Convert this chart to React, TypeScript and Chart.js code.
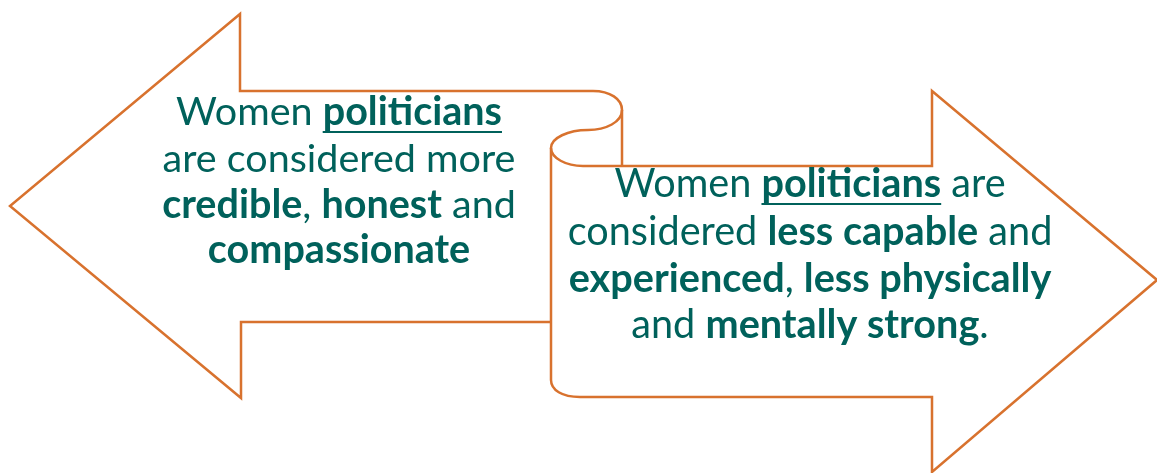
import { useEffect, useRef } from 'react';
import { Chart, registerables } from 'chart.js';

Chart.register(...registerables);

const SHAPE_COLOR = '#D8722E';
const TEXT_COLOR = '#00615B';
const FONT_FAMILY = 'Lato';

const leftArrow = [
  { x: 551, y: 322 }, { x: 241, y: 322 }, { x: 241, y: 398 }, { x: 10, y: 206 },
  { x: 240, y: 14 }, { x: 240, y: 91 }, { x: 593, y: 91 },
];
const rightArrow = [
  { x: 580, y: 397 }, { x: 932, y: 397 }, { x: 932, y: 472 }, { x: 1157, y: 280 },
  { x: 932, y: 91 }, { x: 932, y: 166 }, { x: 583, y: 166 },
];
const scrollBack = [{ x: 622, y: 110 }, { x: 622, y: 166 }];
const scrollEdge = [{ x: 551, y: 148 }, { x: 551, y: 380 }];
const curlCurves = [
  [[593, 91], [610, 91], [622, 99], [622, 110]],
  [[622, 110], [622, 122], [606, 130], [588, 130]],
  [[588, 130], [568, 130], [551, 138], [551, 148]],
  [[551, 148], [551, 158], [566, 166], [583, 166]],
  [[551, 380], [551, 390], [562, 397], [580, 397]],
];

type Run = { t: string; b?: boolean; u?: boolean };

const leftLines: Run[][] = [
  [{ t: 'Women ' }, { t: 'politicians', b: true, u: true }],
  [{ t: 'are considered more' }],
  [{ t: 'credible', b: true }, { t: ', ' }, { t: 'honest', b: true }, { t: ' and' }],
  [{ t: 'compassionate', b: true }],
];
const rightLines: Run[][] = [
  [{ t: 'Women ' }, { t: 'politicians', b: true, u: true }, { t: ' are' }],
  [{ t: 'considered ' }, { t: 'less capable', b: true }, { t: ' and' }],
  [{ t: 'experienced', b: true }, { t: ', ' }, { t: 'less physically', b: true }],
  [{ t: 'and ' }, { t: 'mentally strong', b: true }, { t: '.' }],
];
const leftBaselines = [125, 172, 218, 263];
const rightBaselines = [197, 245, 292, 338];
const leftCenterX = 339;
const rightCenterX = 810;
const leftFitLine = 1;
const leftFitWidth = 353;
const rightFitLine = 1;
const rightFitWidth = 485;

function fontFor(run: Run, size: number) {
  return `${run.b ? 'bold ' : ''}${size}px ${FONT_FAMILY}`;
}

function lineWidth(ctx: CanvasRenderingContext2D, line: Run[], size: number) {
  let w = 0;
  for (const r of line) {
    ctx.font = fontFor(r, size);
    w += ctx.measureText(r.t).width;
  }
  return w;
}

function drawBlock(
  chart: any,
  lines: Run[][],
  baselines: number[],
  centerX: number,
  fitLine: number,
  fitWidth: number,
) {
  const ctx: CanvasRenderingContext2D = chart.ctx;
  const xs = chart.scales.x;
  const ys = chart.scales.y;
  const base = 100;
  const size = (base * fitWidth) / lineWidth(ctx, lines[fitLine], base);
  ctx.save();
  ctx.fillStyle = TEXT_COLOR;
  ctx.strokeStyle = TEXT_COLOR;
  ctx.textBaseline = 'alphabetic';
  ctx.textAlign = 'left';
  lines.forEach((line, i) => {
    const w = lineWidth(ctx, line, size);
    let x = xs.getPixelForValue(centerX) - w / 2;
    const y = ys.getPixelForValue(baselines[i]);
    for (const r of line) {
      ctx.font = fontFor(r, size);
      ctx.fillText(r.t, x, y);
      const rw = ctx.measureText(r.t).width;
      if (r.u) {
        ctx.lineWidth = 2;
        ctx.beginPath();
        ctx.moveTo(x, y + 7);
        ctx.lineTo(x + rw, y + 7);
        ctx.stroke();
      }
      x += rw;
    }
  });
  ctx.restore();
}

const overlayPlugin = {
  id: 'overlay',
  afterDatasetsDraw(chart: any) {
    const ctx: CanvasRenderingContext2D = chart.ctx;
    const xs = chart.scales.x;
    const ys = chart.scales.y;
    const px = (p: number[]) => [xs.getPixelForValue(p[0]), ys.getPixelForValue(p[1])];
    ctx.save();
    ctx.strokeStyle = SHAPE_COLOR;
    ctx.lineWidth = 2.5;
    for (const c of curlCurves) {
      const [a, b, d, e] = c.map(px);
      ctx.beginPath();
      ctx.moveTo(a[0], a[1]);
      ctx.bezierCurveTo(b[0], b[1], d[0], d[1], e[0], e[1]);
      ctx.stroke();
    }
    ctx.restore();
    drawBlock(chart, leftLines, leftBaselines, leftCenterX, leftFitLine, leftFitWidth);
    drawBlock(chart, rightLines, rightBaselines, rightCenterX, rightFitLine, rightFitWidth);
  },
};

export default function App() {
  const ref = useRef<HTMLCanvasElement>(null);
  useEffect(() => {
    if (!ref.current) return;
    const mk = (label: string, data: { x: number; y: number }[]) => ({
      label,
      data,
      showLine: true,
      borderColor: SHAPE_COLOR,
      backgroundColor: SHAPE_COLOR,
      borderWidth: 2.5,
      pointRadius: 0,
      pointHoverRadius: 0,
      fill: false,
      tension: 0,
      borderJoinStyle: 'miter' as const,
    });
    const chart = new Chart(ref.current, {
      type: 'scatter',
      data: {
        datasets: [
          mk('left', leftArrow),
          mk('right', rightArrow),
          mk('back', scrollBack),
          mk('edge', scrollEdge),
        ],
      },
      options: {
        animation: false,
        responsive: false,
        events: [],
        layout: { padding: 0 },
        plugins: { legend: { display: false }, tooltip: { enabled: false } },
        scales: {
          x: { type: 'linear', min: 0, max: 1157, display: false },
          y: { type: 'linear', min: 0, max: 473, reverse: true, display: false },
        },
      },
      plugins: [overlayPlugin],
    });
    return () => chart.destroy();
  }, []);
  return (
    <div style={{ position: 'absolute', left: 0, top: 0, width: 1157, height: 473, background: '#fff' }}>
      <canvas ref={ref} width={1157} height={473} style={{ display: 'block' }} />
    </div>
  );
}
